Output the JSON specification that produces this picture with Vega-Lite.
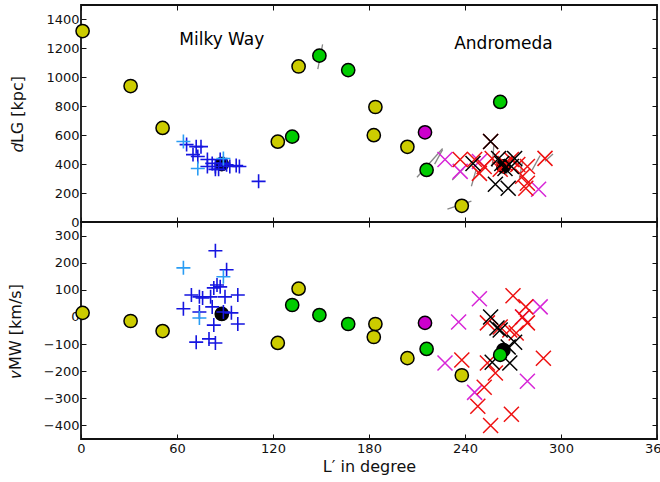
{
  "$schema": "https://vega.github.io/schema/vega-lite/v6.json",
  "padding": {"left": 6, "top": 3, "right": 3, "bottom": 0},
  "spacing": 0,
  "bounds": "flush",
  "config": {
    "view": {"stroke": "#111", "strokeWidth": 1.8},
    "font": "DejaVu Sans",
    "axis": {"grid": false, "domain": false, "zindex": 1, "tickColor": "#111", "tickSize": -5, "tickWidth": 1, "labelFontSize": 13, "labelColor": "#111", "labelPadding": 8, "labelFlush": false, "labelOverlap": false, "titleFontSize": 16, "titleFontWeight": "normal", "titleColor": "#111", "labelFont": "DejaVu Sans", "titleFont": "DejaVu Sans"}
  },
  "datasets": {
    "top": [
      {"L": 1, "v": 1320, "g": "yellow"}, {"L": 31, "v": 940, "g": "yellow"}, {"L": 51, "v": 650, "g": "yellow"},
      {"L": 123, "v": 555, "g": "yellow"}, {"L": 136, "v": 1075, "g": "yellow"}, {"L": 184, "v": 795, "g": "yellow"},
      {"L": 183, "v": 600, "g": "yellow"}, {"L": 204, "v": 520, "g": "yellow"}, {"L": 238, "v": 112, "g": "yellow"},
      {"L": 132, "v": 590, "g": "green"}, {"L": 149, "v": 1150, "g": "green"}, {"L": 167, "v": 1050, "g": "green"},
      {"L": 216, "v": 360, "g": "green"}, {"L": 262, "v": 830, "g": "green"},
      {"L": 215, "v": 620, "g": "magenta"},
      {"L": 88, "v": 400, "g": "host"}, {"L": 264, "v": 385, "g": "host"},
      {"L": 64, "v": 556, "g": "lightplus"}, {"L": 73, "v": 370, "g": "lightplus"}, {"L": 89, "v": 439, "g": "lightplus"},
      {"L": 111, "v": 281, "g": "plus"}, {"L": 66, "v": 535, "g": "plus"}, {"L": 72, "v": 521, "g": "plus"},
      {"L": 75, "v": 521, "g": "plus"}, {"L": 70, "v": 466, "g": "plus"}, {"L": 73, "v": 453, "g": "plus"},
      {"L": 79, "v": 432, "g": "plus"}, {"L": 82, "v": 405, "g": "plus"}, {"L": 84, "v": 384, "g": "plus"},
      {"L": 84, "v": 364, "g": "plus"}, {"L": 87, "v": 432, "g": "plus"}, {"L": 93, "v": 384, "g": "plus"},
      {"L": 97, "v": 391, "g": "plus"}, {"L": 99, "v": 384, "g": "plus"}, {"L": 79, "v": 384, "g": "plus"},
      {"L": 86, "v": 364, "g": "plus"}, {"L": 89, "v": 405, "g": "plus"}, {"L": 91, "v": 395, "g": "plus"},
      {"L": 227.5, "v": 432, "g": "xmag"}, {"L": 237, "v": 350, "g": "xmag"}, {"L": 286, "v": 226, "g": "xmag"}, {"L": 249, "v": 418, "g": "xmag"},
      {"L": 237, "v": 432, "g": "xred"}, {"L": 252, "v": 384, "g": "xred"}, {"L": 249, "v": 336, "g": "xred"},
      {"L": 257, "v": 439, "g": "xred"}, {"L": 290, "v": 440, "g": "xred"}, {"L": 265, "v": 405, "g": "xred"},
      {"L": 269, "v": 432, "g": "xred"}, {"L": 273, "v": 398, "g": "xred"}, {"L": 279, "v": 384, "g": "xred"},
      {"L": 276, "v": 316, "g": "xred"}, {"L": 279, "v": 268, "g": "xred"}, {"L": 278, "v": 233, "g": "xred"},
      {"L": 256, "v": 556, "g": "xred"}, {"L": 262, "v": 364, "g": "xred"}, {"L": 246, "v": 432, "g": "xred"},
      {"L": 256, "v": 556, "g": "xblack"}, {"L": 245, "v": 405, "g": "xblack"}, {"L": 261, "v": 439, "g": "xblack"},
      {"L": 265, "v": 370, "g": "xblack"}, {"L": 269, "v": 384, "g": "xblack"}, {"L": 259, "v": 261, "g": "xblack"},
      {"L": 267, "v": 233, "g": "xblack"}, {"L": 271, "v": 439, "g": "xblack"}, {"L": 263, "v": 405, "g": "xblack"}
    ],
    "errs": [
      {"L": 148, "v": 1056, "L2": 151, "v2": 1228},
      {"L": 210, "v": 309, "L2": 226, "v2": 508},
      {"L": 229, "v": 89, "L2": 244, "v2": 144},
      {"L": 221, "v": 400, "L2": 226, "v2": 500},
      {"L": 232, "v": 290, "L2": 239, "v2": 370},
      {"L": 244, "v": 247, "L2": 247, "v2": 364},
      {"L": 257, "v": 380, "L2": 258, "v2": 530},
      {"L": 266, "v": 330, "L2": 268, "v2": 450},
      {"L": 274, "v": 300, "L2": 276, "v2": 420},
      {"L": 282, "v": 360, "L2": 287, "v2": 460},
      {"L": 290, "v": 420, "L2": 295, "v2": 470}
    ],
    "labels": [
      {"L": 88, "v": 1255, "t": "Milky Way"},
      {"L": 264, "v": 1228, "t": "Andromeda"}
    ],
    "bottom": [
      {"L": 1, "v": 15, "g": "yellow"}, {"L": 31, "v": -15, "g": "yellow"}, {"L": 51, "v": -52, "g": "yellow"},
      {"L": 123, "v": -96, "g": "yellow"}, {"L": 136, "v": 104, "g": "yellow"}, {"L": 184, "v": -26, "g": "yellow"},
      {"L": 183, "v": -74, "g": "yellow"}, {"L": 204, "v": -152, "g": "yellow"}, {"L": 238, "v": -215, "g": "yellow"},
      {"L": 132, "v": 44, "g": "green"}, {"L": 149, "v": 7, "g": "green"}, {"L": 167, "v": -26, "g": "green"},
      {"L": 216, "v": -118, "g": "green"}, {"L": 262, "v": -140, "g": "green"},
      {"L": 215, "v": -22, "g": "magenta"},
      {"L": 88, "v": 11, "g": "host"}, {"L": 264, "v": -122, "g": "host"},
      {"L": 64, "v": 181, "g": "lightplus"}, {"L": 89, "v": 148, "g": "lightplus"}, {"L": 74, "v": -4, "g": "lightplus"},
      {"L": 84, "v": 244, "g": "plus"}, {"L": 91, "v": 174, "g": "plus"}, {"L": 85, "v": 118, "g": "plus"},
      {"L": 83, "v": 107, "g": "plus"}, {"L": 87, "v": 111, "g": "plus"}, {"L": 81, "v": 74, "g": "plus"},
      {"L": 69, "v": 81, "g": "plus"}, {"L": 74, "v": 74, "g": "plus"}, {"L": 76, "v": 70, "g": "plus"},
      {"L": 98, "v": 81, "g": "plus"}, {"L": 90, "v": 74, "g": "plus"}, {"L": 64, "v": 30, "g": "plus"},
      {"L": 74, "v": 18, "g": "plus"}, {"L": 82, "v": 37, "g": "plus"}, {"L": 89, "v": 18, "g": "plus"},
      {"L": 94, "v": 15, "g": "plus"}, {"L": 98, "v": -26, "g": "plus"}, {"L": 83, "v": -30, "g": "plus"},
      {"L": 72, "v": -93, "g": "plus"}, {"L": 80, "v": -81, "g": "plus"}, {"L": 84, "v": -96, "g": "plus"},
      {"L": 249, "v": 67, "g": "xmag"}, {"L": 236, "v": -19, "g": "xmag"}, {"L": 287, "v": 37, "g": "xmag"},
      {"L": 276, "v": 0, "g": "xmag"}, {"L": 227.5, "v": -170, "g": "xmag"}, {"L": 279, "v": -237, "g": "xmag"},
      {"L": 246, "v": -278, "g": "xmag"},
      {"L": 270, "v": 78, "g": "xred"}, {"L": 278, "v": 37, "g": "xred"}, {"L": 279, "v": -22, "g": "xred"},
      {"L": 254, "v": -22, "g": "xred"}, {"L": 262, "v": -37, "g": "xred"}, {"L": 268, "v": -48, "g": "xred"},
      {"L": 272, "v": -59, "g": "xred"}, {"L": 238, "v": -159, "g": "xred"}, {"L": 254, "v": -170, "g": "xred"},
      {"L": 259, "v": -207, "g": "xred"}, {"L": 289, "v": -152, "g": "xred"}, {"L": 252, "v": -259, "g": "xred"},
      {"L": 248, "v": -329, "g": "xred"}, {"L": 269, "v": -359, "g": "xred"}, {"L": 256, "v": -400, "g": "xred"},
      {"L": 276, "v": 0, "g": "xred"},
      {"L": 256, "v": 0, "g": "xblack"}, {"L": 260, "v": -41, "g": "xblack"}, {"L": 262, "v": -48, "g": "xblack"},
      {"L": 271, "v": -93, "g": "xblack"}, {"L": 267, "v": -111, "g": "xblack"}, {"L": 257, "v": -167, "g": "xblack"},
      {"L": 268, "v": -170, "g": "xblack"}
    ]
  },
  "vconcat": [
    {
      "width": 576, "height": 217,
      "data": {"name": "top"},
      "resolve": {"axis": {"x": "independent", "y": "independent"}},
      "encoding": {
        "x": {"field": "L", "type": "quantitative", "scale": {"domain": [0, 360], "nice": false, "zero": false}},
        "y": {"field": "v", "type": "quantitative", "scale": {"domain": [0, 1500], "nice": false}}
      },
      "layer": [
        {
          "data": {"name": "errs"},
          "mark": {"type": "rule", "color": "#888", "strokeWidth": 1.3},
          "encoding": {
            "x": {"field": "L", "type": "quantitative", "axis": {"orient": "bottom", "values": [0, 60, 120, 180, 240, 300, 360], "labels": false, "title": null}},
            "y": {"field": "v", "type": "quantitative", "axis": {"orient": "left", "values": [0, 200, 400, 600, 800, 1000, 1200, 1400], "labelExpr": "format(datum.value, 'd')", "title": "𝑑LG [kpc]", "titlePadding": 20, "labelPadding": 7}},
            "x2": {"field": "L2"},
            "y2": {"field": "v2"}
          }
        },
        {
          "transform": [{"filter": "datum.g == 'host'"}],
          "mark": {"type": "point", "shape": "circle", "filled": true, "size": 175, "fill": "#000", "stroke": "#000", "strokeWidth": 1.5, "opacity": 1},
          "encoding": {
            "x": {"field": "L", "type": "quantitative", "axis": {"orient": "top", "values": [0, 60, 120, 180, 240, 300, 360], "labels": false, "title": null}},
            "y": {"field": "v", "type": "quantitative", "axis": {"orient": "right", "values": [0, 200, 400, 600, 800, 1000, 1200, 1400], "labels": false, "title": null}}
          }
        },
        {
          "transform": [{"filter": "datum.g == 'plus'"}],
          "mark": {"type": "point", "shape": "M-1,0H1M0,-1V1", "filled": false, "size": 196, "stroke": "#1515e0", "strokeWidth": 1.6, "opacity": 1},
          "encoding": {"x": {"field": "L", "type": "quantitative", "axis": null}, "y": {"field": "v", "type": "quantitative", "axis": null}}
        },
        {
          "transform": [{"filter": "datum.g == 'lightplus'"}],
          "mark": {"type": "point", "shape": "M-1,0H1M0,-1V1", "filled": false, "size": 196, "stroke": "#2a9df4", "strokeWidth": 1.6, "opacity": 1},
          "encoding": {"x": {"field": "L", "type": "quantitative", "axis": null}, "y": {"field": "v", "type": "quantitative", "axis": null}}
        },
        {
          "transform": [{"filter": "datum.g == 'xmag'"}],
          "mark": {"type": "point", "shape": "M-1,-1L1,1M-1,1L1,-1", "filled": false, "size": 225, "stroke": "#d726d7", "strokeWidth": 1.5, "opacity": 1},
          "encoding": {"x": {"field": "L", "type": "quantitative", "axis": null}, "y": {"field": "v", "type": "quantitative", "axis": null}}
        },
        {
          "transform": [{"filter": "datum.g == 'xred'"}],
          "mark": {"type": "point", "shape": "M-1,-1L1,1M-1,1L1,-1", "filled": false, "size": 225, "stroke": "#ee1111", "strokeWidth": 1.5, "opacity": 1},
          "encoding": {"x": {"field": "L", "type": "quantitative", "axis": null}, "y": {"field": "v", "type": "quantitative", "axis": null}}
        },
        {
          "transform": [{"filter": "datum.g == 'xblack'"}],
          "mark": {"type": "point", "shape": "M-1,-1L1,1M-1,1L1,-1", "filled": false, "size": 225, "stroke": "#000", "strokeWidth": 1.5, "opacity": 1},
          "encoding": {"x": {"field": "L", "type": "quantitative", "axis": null}, "y": {"field": "v", "type": "quantitative", "axis": null}}
        },
        {
          "transform": [{"filter": "datum.g == 'yellow'"}],
          "mark": {"type": "point", "shape": "circle", "filled": true, "size": 175, "fill": "#cccc00", "stroke": "#000", "strokeWidth": 1.5, "opacity": 1},
          "encoding": {"x": {"field": "L", "type": "quantitative", "axis": null}, "y": {"field": "v", "type": "quantitative", "axis": null}}
        },
        {
          "transform": [{"filter": "datum.g == 'green'"}],
          "mark": {"type": "point", "shape": "circle", "filled": true, "size": 175, "fill": "#00cc00", "stroke": "#000", "strokeWidth": 1.5, "opacity": 1},
          "encoding": {"x": {"field": "L", "type": "quantitative", "axis": null}, "y": {"field": "v", "type": "quantitative", "axis": null}}
        },
        {
          "transform": [{"filter": "datum.g == 'magenta'"}],
          "mark": {"type": "point", "shape": "circle", "filled": true, "size": 175, "fill": "#cc00cc", "stroke": "#000", "strokeWidth": 1.5, "opacity": 1},
          "encoding": {"x": {"field": "L", "type": "quantitative", "axis": null}, "y": {"field": "v", "type": "quantitative", "axis": null}}
        },
        {
          "data": {"name": "labels"},
          "mark": {"type": "text", "fontSize": 17, "font": "DejaVu Sans", "color": "#000", "align": "center", "baseline": "middle"},
          "encoding": {"x": {"field": "L", "type": "quantitative", "axis": null}, "y": {"field": "v", "type": "quantitative", "axis": null}, "text": {"field": "t"}}
        }
      ]
    },
    {
      "width": 576, "height": 217,
      "data": {"name": "bottom"},
      "resolve": {"axis": {"x": "independent", "y": "independent"}},
      "encoding": {
        "x": {"field": "L", "type": "quantitative", "scale": {"domain": [0, 360], "nice": false, "zero": false}},
        "y": {"field": "v", "type": "quantitative", "scale": {"domain": [-450, 350], "nice": false}}
      },
      "layer": [
        {
          "transform": [{"filter": "datum.g == 'host'"}],
          "mark": {"type": "point", "shape": "circle", "filled": true, "size": 175, "fill": "#000", "stroke": "#000", "strokeWidth": 1.5, "opacity": 1},
          "encoding": {
            "x": {"field": "L", "type": "quantitative", "axis": {"orient": "bottom", "values": [0, 60, 120, 180, 240, 300, 360], "title": "L′ in degree", "titlePadding": 3}},
            "y": {"field": "v", "type": "quantitative", "axis": {"orient": "left", "values": [-400, -300, -200, -100, 0, 100, 200, 300], "labelExpr": "datum.value < 0 ? '\u2212' + format(-datum.value, 'd') : format(datum.value, 'd')", "title": "𝑣MW [km/s]", "titlePadding": 20, "labelPadding": 7}}
          }
        },
        {
          "transform": [{"filter": "datum.g == 'plus'"}],
          "mark": {"type": "point", "shape": "M-1,0H1M0,-1V1", "filled": false, "size": 196, "stroke": "#1515e0", "strokeWidth": 1.6, "opacity": 1},
          "encoding": {
            "x": {"field": "L", "type": "quantitative", "axis": {"orient": "top", "values": [0, 60, 120, 180, 240, 300, 360], "labels": false, "title": null}},
            "y": {"field": "v", "type": "quantitative", "axis": {"orient": "right", "values": [-400, -300, -200, -100, 0, 100, 200, 300], "labels": false, "title": null}}
          }
        },
        {
          "transform": [{"filter": "datum.g == 'lightplus'"}],
          "mark": {"type": "point", "shape": "M-1,0H1M0,-1V1", "filled": false, "size": 196, "stroke": "#2a9df4", "strokeWidth": 1.6, "opacity": 1},
          "encoding": {"x": {"field": "L", "type": "quantitative", "axis": null}, "y": {"field": "v", "type": "quantitative", "axis": null}}
        },
        {
          "transform": [{"filter": "datum.g == 'xmag'"}],
          "mark": {"type": "point", "shape": "M-1,-1L1,1M-1,1L1,-1", "filled": false, "size": 225, "stroke": "#d726d7", "strokeWidth": 1.5, "opacity": 1},
          "encoding": {"x": {"field": "L", "type": "quantitative", "axis": null}, "y": {"field": "v", "type": "quantitative", "axis": null}}
        },
        {
          "transform": [{"filter": "datum.g == 'xred'"}],
          "mark": {"type": "point", "shape": "M-1,-1L1,1M-1,1L1,-1", "filled": false, "size": 225, "stroke": "#ee1111", "strokeWidth": 1.5, "opacity": 1},
          "encoding": {"x": {"field": "L", "type": "quantitative", "axis": null}, "y": {"field": "v", "type": "quantitative", "axis": null}}
        },
        {
          "transform": [{"filter": "datum.g == 'xblack'"}],
          "mark": {"type": "point", "shape": "M-1,-1L1,1M-1,1L1,-1", "filled": false, "size": 225, "stroke": "#000", "strokeWidth": 1.5, "opacity": 1},
          "encoding": {"x": {"field": "L", "type": "quantitative", "axis": null}, "y": {"field": "v", "type": "quantitative", "axis": null}}
        },
        {
          "transform": [{"filter": "datum.g == 'yellow'"}],
          "mark": {"type": "point", "shape": "circle", "filled": true, "size": 175, "fill": "#cccc00", "stroke": "#000", "strokeWidth": 1.5, "opacity": 1},
          "encoding": {"x": {"field": "L", "type": "quantitative", "axis": null}, "y": {"field": "v", "type": "quantitative", "axis": null}}
        },
        {
          "transform": [{"filter": "datum.g == 'green'"}],
          "mark": {"type": "point", "shape": "circle", "filled": true, "size": 175, "fill": "#00cc00", "stroke": "#000", "strokeWidth": 1.5, "opacity": 1},
          "encoding": {"x": {"field": "L", "type": "quantitative", "axis": null}, "y": {"field": "v", "type": "quantitative", "axis": null}}
        },
        {
          "transform": [{"filter": "datum.g == 'magenta'"}],
          "mark": {"type": "point", "shape": "circle", "filled": true, "size": 175, "fill": "#cc00cc", "stroke": "#000", "strokeWidth": 1.5, "opacity": 1},
          "encoding": {"x": {"field": "L", "type": "quantitative", "axis": null}, "y": {"field": "v", "type": "quantitative", "axis": null}}
        }
      ]
    }
  ]
}
